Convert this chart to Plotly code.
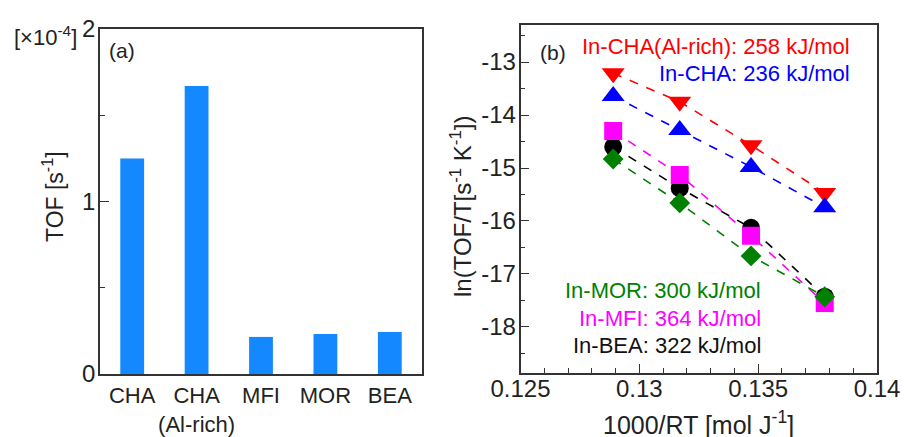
import plotly.graph_objects as go

# ---------------- data ----------------
zeolites = ["CHA", "CHA<br>(Al-rich)", "MFI", "MOR", "BEA"]
tof_e4 = [1.25, 1.67, 0.215, 0.232, 0.243]
y1_tickvals = [0, 1, 2]
y1_ticktext = ["0", "1", "2"]

inv_rt = [0.1289, 0.1317, 0.1347, 0.1378]
ln_cha_alrich = [-13.21, -13.75, -14.57, -15.47]
ln_cha = [-13.64, -14.28, -14.98, -15.74]
ln_mfi = [-14.30, -15.13, -16.28, -17.55]
ln_bea = [-14.60, -15.38, -16.13, -17.43]
ln_mor = [-14.83, -15.66, -16.66, -17.43]

x2_tickvals = [0.125, 0.13, 0.135, 0.14]
x2_ticktext = ["0.125", "0.13", "0.135", "0.14"]
y2_tickvals = [-18, -17, -16, -15, -14, -13]
y2_ticktext = ["-18", "-17", "-16", "-15", "-14", "-13"]

W, H = 904, 437
FONT = "Liberation Sans, Arial, sans-serif"
AX = "#333333"

def px(x):
    return x / W

def py(y):
    return 1 - y / H

fig = go.Figure()

fig.add_trace(go.Bar(x=list(range(len(zeolites))), y=tof_e4, width=0.37,
                     marker=dict(color="#1488ff", line=dict(width=0)),
                     xaxis="x", yaxis="y", showlegend=False))

series = [
    (ln_cha_alrich, "red", "triangle-down", 20),
    (ln_cha, "blue", "triangle-up", 20),
    (ln_bea, "black", "circle", 18),
    (ln_mfi, "magenta", "square", 18),
    (ln_mor, "green", "diamond", 16),
]
for ys, col, sym, sz in series:
    fig.add_trace(go.Scatter(x=inv_rt, y=ys, mode="lines+markers",
                             line=dict(color=col, width=1.6, dash="dash"),
                             marker=dict(color=col, symbol=sym, size=sz, line=dict(width=0)),
                             xaxis="x2", yaxis="y2", showlegend=False))

common_line = dict(showline=True, linecolor=AX, linewidth=1.5, mirror=True,
                   showgrid=False, zeroline=False, automargin=False)

fig.update_layout(
    width=W, height=H,
    margin=dict(l=0, r=0, t=0, b=0, autoexpand=False),
    paper_bgcolor="white", plot_bgcolor="white",
    font=dict(family=FONT, size=22, color="#222222"),
    xaxis=dict(domain=[px(100), px(422)], range=[-0.5, 4.5],
               tickvals=list(range(len(zeolites))), ticktext=zeolites,
               ticks="", tickfont=dict(size=22), ticklabelstandoff=1, tickangle=0,
               **common_line),
    yaxis=dict(domain=[py(374), py(29)], range=[0, 2],
               tickvals=y1_tickvals, ticktext=y1_ticktext,
               ticks="inside", ticklen=9, tickcolor=AX, tickwidth=1.2,
               minor=dict(dtick=0.5, ticks="inside", ticklen=5, tickcolor=AX),
               tickfont=dict(size=24), ticklabelstandoff=-2,
               **common_line),
    xaxis2=dict(domain=[px(520.5), px(877)], range=[0.125, 0.14],
                tickvals=x2_tickvals, ticktext=x2_ticktext, tickangle=0,
                ticks="inside", ticklen=9, tickcolor=AX, tickwidth=1.2,
                minor=dict(dtick=0.001, ticks="inside", ticklen=5, tickcolor=AX),
                tickfont=dict(size=24), anchor="y2", ticklabelstandoff=-7,
                **common_line),
    yaxis2=dict(domain=[py(373), py(25)], range=[-18.87, -12.3],
                tickvals=y2_tickvals, ticktext=y2_ticktext,
                ticks="inside", ticklen=9, tickcolor=AX, tickwidth=1.2,
                minor=dict(dtick=0.5, ticks="inside", ticklen=5, tickcolor=AX),
                tickfont=dict(size=24), anchor="x2", ticklabelstandoff=-2,
                **common_line),
)

def note(x, y, text, color="#222222", size=22, xanchor="center", angle=0):
    fig.add_annotation(x=px(x), y=py(y), xref="paper", yref="paper", text=text,
                       showarrow=False, xanchor=xanchor, yanchor="middle",
                       textangle=angle, font=dict(size=size, color=color, family=FONT))

note(45, 36, "[×10<sup>-4</sup>]", size=22)
note(122, 51, "(a)", size=21)
note(53, 197, "TOF [s<sup>-1</sup>]", size=23, angle=-90)
note(553, 52, "(b)", size=21)
note(461, 207, "ln(TOF/T[s<sup>-1</sup> K<sup>-1</sup>])", size=24, angle=-90)
note(698, 423, "1000/RT [mol J<sup>-1</sup>]", size=25)
note(852, 46, "In-CHA(Al-rich): 258 kJ/mol", color="red", xanchor="right")
note(852, 73, "In-CHA: 236 kJ/mol", color="blue", xanchor="right")
note(763, 290, "In-MOR: 300 kJ/mol", color="green", xanchor="right")
note(763, 318, "In-MFI: 364 kJ/mol", color="magenta", xanchor="right")
note(763, 345, "In-BEA: 322 kJ/mol", color="#111111", xanchor="right")

fig.write_html("out.html")
